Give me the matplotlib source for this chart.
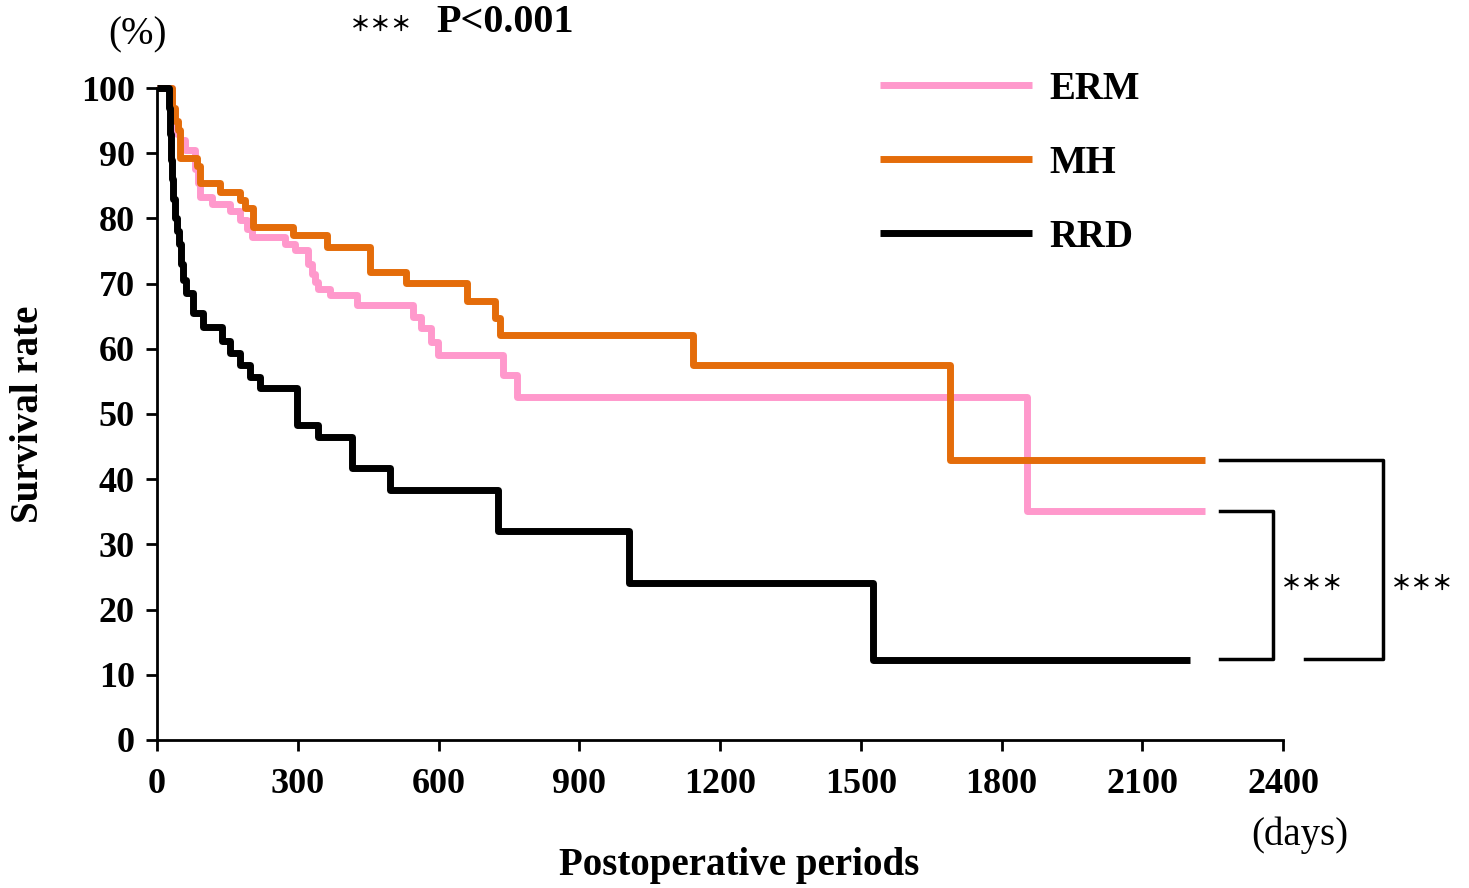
#Curva de sobrevida - ERM, MH, RRD

import numpy as np #arrays
import matplotlib.pyplot as plt #grafico

plt.rcParams['font.family'] = ['Liberation Serif', 'DejaVu Sans']

#dados (dias, sobrevida % apos o evento)
erm_days = [0, 32, 37, 43, 50, 60, 80, 88, 92, 117, 156, 177, 192, 202, 273, 294, 322, 330, 337, 343, 369, 426, 546, 563, 585, 599, 737, 767, 1854]
erm_surv = [100, 97, 95, 93, 92, 90.5, 87.5, 85.5, 83.3, 82.2, 81.2, 79.7, 78.4, 77.1, 76.1, 75.1, 73, 71.5, 70.2, 69.2, 68.2, 66.7, 64.9, 63.2, 61, 59.0, 56.0, 52.6, 35.1]
erm_end = 2234

mh_days = [0, 32, 38, 45, 50, 85, 92, 134, 177, 188, 205, 290, 362, 454, 531, 661, 720, 731, 1142, 1690]
mh_surv = [100, 97, 95, 93.5, 89.3, 88, 85.4, 84.1, 82.8, 81.6, 78.7, 77.4, 75.6, 71.8, 70.1, 67.3, 64.7, 62.1, 57.5, 42.9]
mh_end = 2234

rrd_days = [0, 25, 27, 29, 32, 35, 38, 42, 47, 52, 56, 62, 77, 98, 138, 156, 177, 198, 219, 298, 343, 415, 497, 727, 1006, 1526]
rrd_surv = [100, 97, 93, 89, 86, 83, 80, 78, 76, 73, 70.5, 68.5, 65.5, 63.4, 61.2, 59.4, 57.5, 55.7, 54.0, 48.3, 46.5, 41.7, 38.4, 32.1, 24.0, 12.2]
rrd_end = 2202

x_ticks = [0, 300, 600, 900, 1200, 1500, 1800, 2100, 2400]
y_ticks = [0, 10, 20, 30, 40, 50, 60, 70, 80, 90, 100]

fig = plt.figure(figsize=(14.69, 8.88), dpi=100)
ax = fig.add_axes([0.1069, 0.1667, 0.7665, 0.7342])

def step(ax, d, s, end, cor, label):
    x = np.append(d, end) #acrescenta o ultimo ponto
    y = np.append(s, s[-1])
    ax.step(x, y, where='post', color=cor, lw=5, label=label, clip_on=False, solid_capstyle='butt')

step(ax, erm_days, erm_surv, erm_end, '#FF99CC', 'ERM')
step(ax, mh_days, mh_surv, mh_end, '#E46C0A', 'MH')
step(ax, rrd_days, rrd_surv, rrd_end, 'black', 'RRD')

ax.set_xlim(0, 2400)
ax.set_ylim(0, 100)
ax.set_xticks(x_ticks)
ax.set_yticks(y_ticks)
ax.tick_params(labelsize=26, width=2, length=8, direction='out', pad=8)
ax.tick_params(axis='x', pad=12)
for t in ax.get_xticklabels() + ax.get_yticklabels():
    t.set_fontweight('bold')
ax.spines['top'].set_visible(False)
ax.spines['right'].set_visible(False)
ax.spines['left'].set_linewidth(2)
ax.spines['bottom'].set_linewidth(2)

ax.set_ylabel('Survival rate', fontsize=28, fontweight='bold', labelpad=24)

#legenda
leg = ax.legend(loc='upper left', bbox_to_anchor=(0.611, 1.08), frameon=False,
                handlelength=3.9, labelspacing=0.95, handletextpad=0.45, prop={'weight': 'bold', 'size': 28})

#colchetes de significancia
br = dict(color='black', lw=2.5, clip_on=False)
ax.plot([2266, 2379, 2379, 2266], [35.1, 35.1, 12.4, 12.4], **br)
ax.plot([2266, 2613, 2613, 2447], [42.9, 42.9, 12.4, 12.4], **br)
star = ['Noto Sans CJK JP', 'DejaVu Sans']
ax.text(2462, 24.0, '＊＊＊', fontsize=15, fontweight='bold', family=star, ha='center', va='center', clip_on=False)
ax.text(2696, 24.0, '＊＊＊', fontsize=15, fontweight='bold', family=star, ha='center', va='center', clip_on=False)

#textos fora do eixo
fig.text(137/1469, 1 - 35/888, '(%)', fontsize=28, ha='center', va='center')
fig.text(381/1469, 1 - 24/888, '＊＊＊', fontsize=15, fontweight='bold', family=star, ha='center', va='center')
fig.text(436/1469, 1 - 22/888, 'P<0.001', fontsize=29, fontweight='bold', ha='left', va='center')
fig.text(1300/1469, 1 - 835/888, '(days)', fontsize=28, ha='center', va='center')
fig.text(739/1469, 1 - 865/888, 'Postoperative periods', fontsize=28, fontweight='bold', ha='center', va='center')

plt.savefig('out.png', dpi=100)
